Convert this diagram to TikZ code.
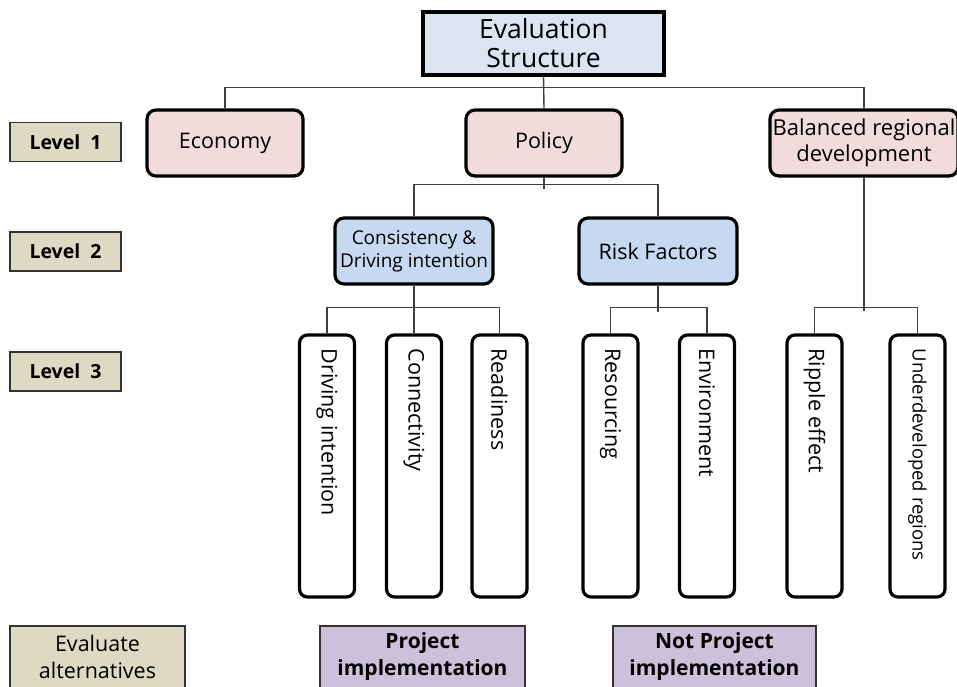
\documentclass[tikz,border=0pt]{standalone}
\usepackage{fontspec}
\setmainfont{Open Sans}
\definecolor{topblue}{HTML}{DBE5F1}
\definecolor{lvlpink}{HTML}{F2DCDB}
\definecolor{lvlblue}{HTML}{C6D9F1}
\definecolor{tan}{HTML}{DDD9C3}
\definecolor{lilac}{HTML}{CCC1DA}
\definecolor{conn}{HTML}{404040}
\begin{document}
\begin{tikzpicture}[x=1pt,y=-1pt,
  topbox/.style={draw=black,line width=3.2pt,fill=topblue,minimum width=241pt,minimum height=63pt,inner sep=0pt,align=center,font=\fontsize{26.5}{29}\selectfont},
  pinkbox/.style={draw=black,line width=3.2pt,fill=lvlpink,rounded corners=9pt,minimum height=66pt,inner sep=0pt,align=center,font=\fontsize{21.5}{26}\selectfont},
  bluebox/.style={draw=black,line width=3.2pt,fill=lvlblue,rounded corners=9pt,minimum width=158pt,minimum height=66pt,inner sep=0pt,align=center},
  leafbox/.style={draw=black,line width=3.2pt,fill=white,rounded corners=8pt,minimum width=55pt,minimum height=262pt,inner sep=0pt},
  leaftext/.style={rotate=-90,anchor=west,inner sep=0pt,font=\fontsize{21.5}{24}\selectfont},
  lvlbox/.style={draw=black!80,line width=1.5pt,fill=tan,minimum width=111pt,minimum height=39pt,inner sep=0pt,font=\bfseries\fontsize{19.5}{23}\selectfont},
  altbox/.style={draw=black!80,line width=1.5pt,minimum height=62pt,inner sep=0pt,align=center,font=\fontsize{21.5}{27}\selectfont},
  link/.style={draw=conn,line width=1.4pt}]
\clip (0,0) rectangle (957,687);
\fill[white] (0,0) rectangle (957,687);
% top
\node[topbox] (top) at (543.5,43.5) {Evaluation\\Structure};
% level 1
\node[pinkbox,minimum width=156pt] (eco) at (225,143) {Economy};
\node[pinkbox,minimum width=156pt] (pol) at (544,143) {Policy};
\node[pinkbox,minimum width=188pt,font=\fontsize{22}{26}\selectfont] (bal) at (864,143) {Balanced regional\\development};
% level 2
\node[bluebox,font=\fontsize{19}{23}\selectfont] (con) at (414,251) {Consistency \&\\Driving intention};
\node[bluebox,font=\fontsize{21.5}{24}\selectfont] (risk) at (658,251) {Risk Factors};
% level 3
\node[leafbox] (l1) at (327,466) {};
\node[leafbox] (l2) at (414,466) {};
\node[leafbox] (l3) at (499.5,466) {};
\node[leafbox] (l4) at (610.5,466) {};
\node[leafbox] (l5) at (707,466) {};
\node[leafbox] (l6) at (814.5,466) {};
\node[leafbox] (l7) at (917.5,466) {};
\node[leaftext] (t1) at ([yshift=-15pt]l1.north) {Driving intention};
\node[leaftext] (t2) at ([yshift=-15pt]l2.north) {Connectivity};
\node[leaftext] (t3) at ([yshift=-15pt]l3.north) {Readiness};
\node[leaftext] (t4) at ([yshift=-15pt]l4.north) {Resourcing};
\node[leaftext] (t5) at ([yshift=-15pt]l5.north) {Environment};
\node[leaftext] (t6) at ([yshift=-15pt]l6.north) {Ripple effect};
\node[leaftext,font=\fontsize{18.5}{22}\selectfont] (t7) at ([yshift=-15pt]l7.north) {Underdeveloped regions};
% level labels
\node[lvlbox] (lv1) at (65.5,142) {Level~~1};
\node[lvlbox] (lv2) at (65.5,251.5) {Level~~2};
\node[lvlbox] (lv3) at (65.5,371.5) {Level~~3};
% alternatives
\node[altbox,fill=tan,minimum width=175pt] (alt) at (97.5,657) {Evaluate\\alternatives};
\node[altbox,fill=lilac,minimum width=205pt,font=\bfseries\fontsize{21}{27}\selectfont] (pi) at (422.5,657) {Project\\implementation};
\node[altbox,fill=lilac,minimum width=203pt,font=\bfseries\fontsize{21}{27}\selectfont] (npi) at (714.5,657) {Not Project\\implementation};
% connectors
\path[link] (eco.north) -- ++(0,-21) -| (bal.north);
\path[link] (top.south) -- (pol.north);
\path[link] (pol.south) -- ++(0,11) coordinate (p2);
\path[link] (con.north) -- ++(0,-32) -| (risk.north);
\path[link] (l1.north) -- ++(0,-26) -| (l3.north);
\path[link] (con.south) -- (l2.north);
\path[link] (l4.north) -- ++(0,-26) -| (l5.north);
\path[link] (risk.south) -- ++(0,26) coordinate (r2);
\path[link] (l6.north) -- ++(0,-26) -| (l7.north);
\path[link] (bal.south) -- ++(0,133) coordinate (b2);
\end{tikzpicture}
\end{document}
